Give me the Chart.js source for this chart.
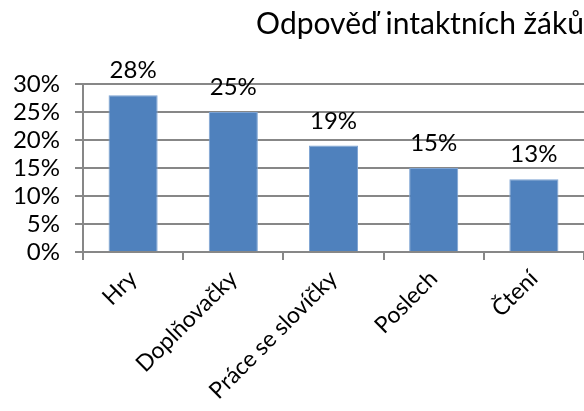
<!DOCTYPE html>
<html>
<head>
<meta charset="utf-8">
<script src="https://cdn.jsdelivr.net/npm/chart.js@4"></script>
<style>
  html, body { margin: 0; padding: 0; background: #fff; }
  #wrap { width: 584px; height: 411px; }
</style>
</head>
<body>
<div id="wrap"><canvas id="chart" width="584" height="411"></canvas></div>
<script>
const categories = ['Hry', 'Doplňovačky', 'Práce se slovíčky', 'Poslech', 'Čtení'];
const values = [28, 25, 19, 15, 13];
const yTicks = [0, 5, 10, 15, 20, 25, 30];

const fontFamily = 'Lato, "Open Sans", sans-serif';

// draws the value above each bar
const valueLabels = {
    id: 'valueLabels',
    afterDatasetsDraw(chart) {
        const ctx = chart.ctx;
        const meta = chart.getDatasetMeta(0);
        ctx.save();
        ctx.fillStyle = '#000';
        ctx.font = '24px ' + fontFamily;
        ctx.textAlign = 'center';
        ctx.textBaseline = 'alphabetic';
        meta.data.forEach((bar, i) => {
            ctx.fillText(values[i] + '%', bar.x, bar.y - 17);
        });
        ctx.restore();
    }
};

const config = {
    type: 'bar',
    data: {
        labels: categories,
        datasets: [{
            data: values,
            backgroundColor: '#4F81BD',
            borderColor: '#7DA3D3',
            borderWidth: 1,
            categoryPercentage: 0.98,
            barPercentage: 0.5
        }]
    },
    options: {
        responsive: false,
        animation: false,
        maintainAspectRatio: false,
        layout: { padding: { left: 0, right: 0, top: 0, bottom: 0 } },
        plugins: {
            legend: { display: false },
            tooltip: { enabled: false },
            title: {
                display: true,
                text: 'Odpověď intaktních žáků',
                align: 'end',
                color: '#000',
                font: { family: fontFamily, size: 30, weight: 'normal' },
                padding: { top: 6, bottom: 42 }
            }
        },
        scales: {
            x: {
                offset: true,
                grid: {
                    offset: true,
                    drawOnChartArea: false,
                    color: '#878787',
                    lineWidth: 2,
                    tickLength: 8
                },
                border: { color: '#878787', width: 2 },
                ticks: {
                    color: '#000',
                    font: { family: fontFamily, size: 23 },
                    minRotation: 45,
                    maxRotation: 45,
                    autoSkip: false,
                    padding: 5
                },
                afterFit(scale) { scale.height = 159; }
            },
            y: {
                min: 0,
                max: 30,
                afterBuildTicks(scale) {
                    scale.ticks = yTicks.map(v => ({ value: v }));
                },
                grid: {
                    color: '#878787',
                    lineWidth: 2,
                    tickLength: 8
                },
                border: { color: '#878787', width: 2 },
                ticks: {
                    color: '#000',
                    font: { family: fontFamily, size: 24, lineHeight: 1 },
                    autoSkip: false,
                    padding: 15,
                    callback: v => v + '%'
                },
                afterFit(scale) { scale.width = 83; }
            }
        }
    },
    plugins: [valueLabels]
};

new Chart(document.getElementById('chart'), config);
</script>
</body>
</html>
